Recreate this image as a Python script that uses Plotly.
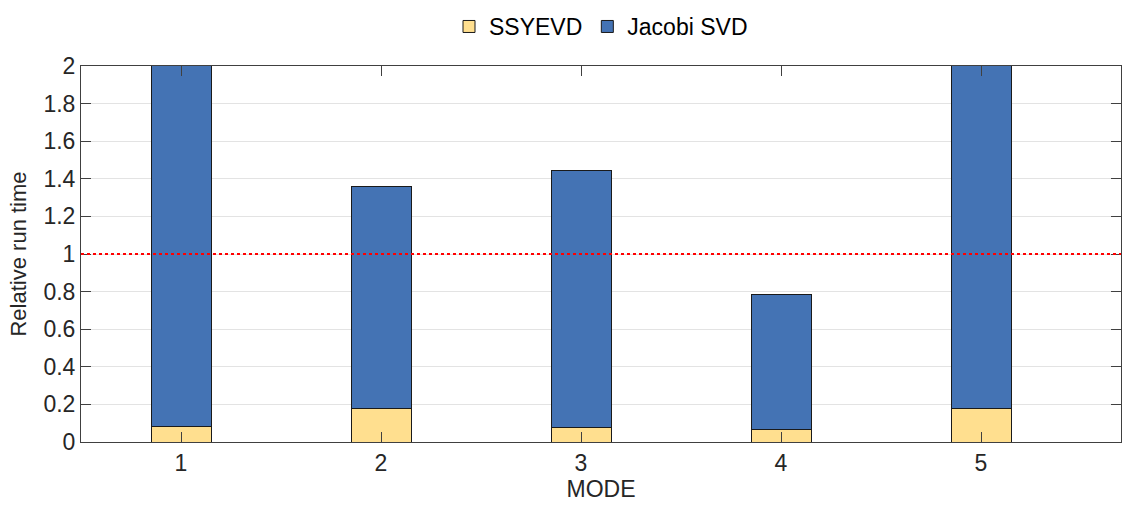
import plotly.graph_objects as go

modes = [1, 2, 3, 4, 5]
ssyevd = [0.08, 0.18, 0.075, 0.065, 0.18]
jacobi_svd = [2.6, 1.18, 1.37, 0.72, 2.6]
threshold = 1.0
y_ticks = [0, 0.2, 0.4, 0.6, 0.8, 1, 1.2, 1.4, 1.6, 1.8, 2]
y_tick_labels = ["0", "0.2", "0.4", "0.6", "0.8", "1", "1.2", "1.4", "1.6", "1.8", "2"]

FONT = "Liberation Sans, Arial, sans-serif"
TXT = "#262626"

fig = go.Figure()
fig.add_trace(go.Bar(x=modes, y=ssyevd, name="SSYEVD", width=0.3,
                     marker=dict(color="#FFDF8F", line=dict(color="#1a1a1a", width=1))))
fig.add_trace(go.Bar(x=modes, y=jacobi_svd, name="Jacobi SVD", width=0.3,
                     marker=dict(color="#4473B4", line=dict(color="#1a1a1a", width=1))))

fig.add_shape(type="line", xref="paper", x0=0, x1=1, yref="y", y0=threshold, y1=threshold,
              line=dict(color="#FF0000", width=2, dash="dot"), layer="above")

fig.update_layout(
    barmode="stack",
    width=1122, height=511,
    margin=dict(l=81, r=1, t=66, b=69),
    plot_bgcolor="white", paper_bgcolor="white",
    font=dict(family=FONT, size=23, color=TXT),
    legend=dict(orientation="h", x=0.5, xanchor="center", y=1.105, yanchor="middle",
                font=dict(size=23, color="black"), itemwidth=30, tracegroupgap=0,
                bgcolor="rgba(0,0,0,0)", traceorder="normal"),
    xaxis=dict(range=[0.5, 5.7], tickvals=modes, ticktext=[str(m) for m in modes],
               ticks="inside", ticklen=10, tickcolor="#404040", mirror="ticks",
               showline=True, linecolor="#404040", linewidth=1, showgrid=False,
               zeroline=False, tickfont=dict(size=23, color=TXT),
               title=dict(text="MODE", font=dict(size=23, color=TXT), standoff=6)),
    yaxis=dict(range=[0, 2], tickvals=y_ticks, ticktext=y_tick_labels,
               ticks="inside", ticklen=10, tickcolor="#404040", mirror="ticks",
               showline=True, linecolor="#404040", linewidth=1, showgrid=True,
               gridcolor="#E3E3E3", gridwidth=1, zeroline=False,
               tickfont=dict(size=23, color=TXT),
               title=dict(text="Relative run time", font=dict(size=22, color=TXT), standoff=10)),
)

fig.write_html("out.html")
